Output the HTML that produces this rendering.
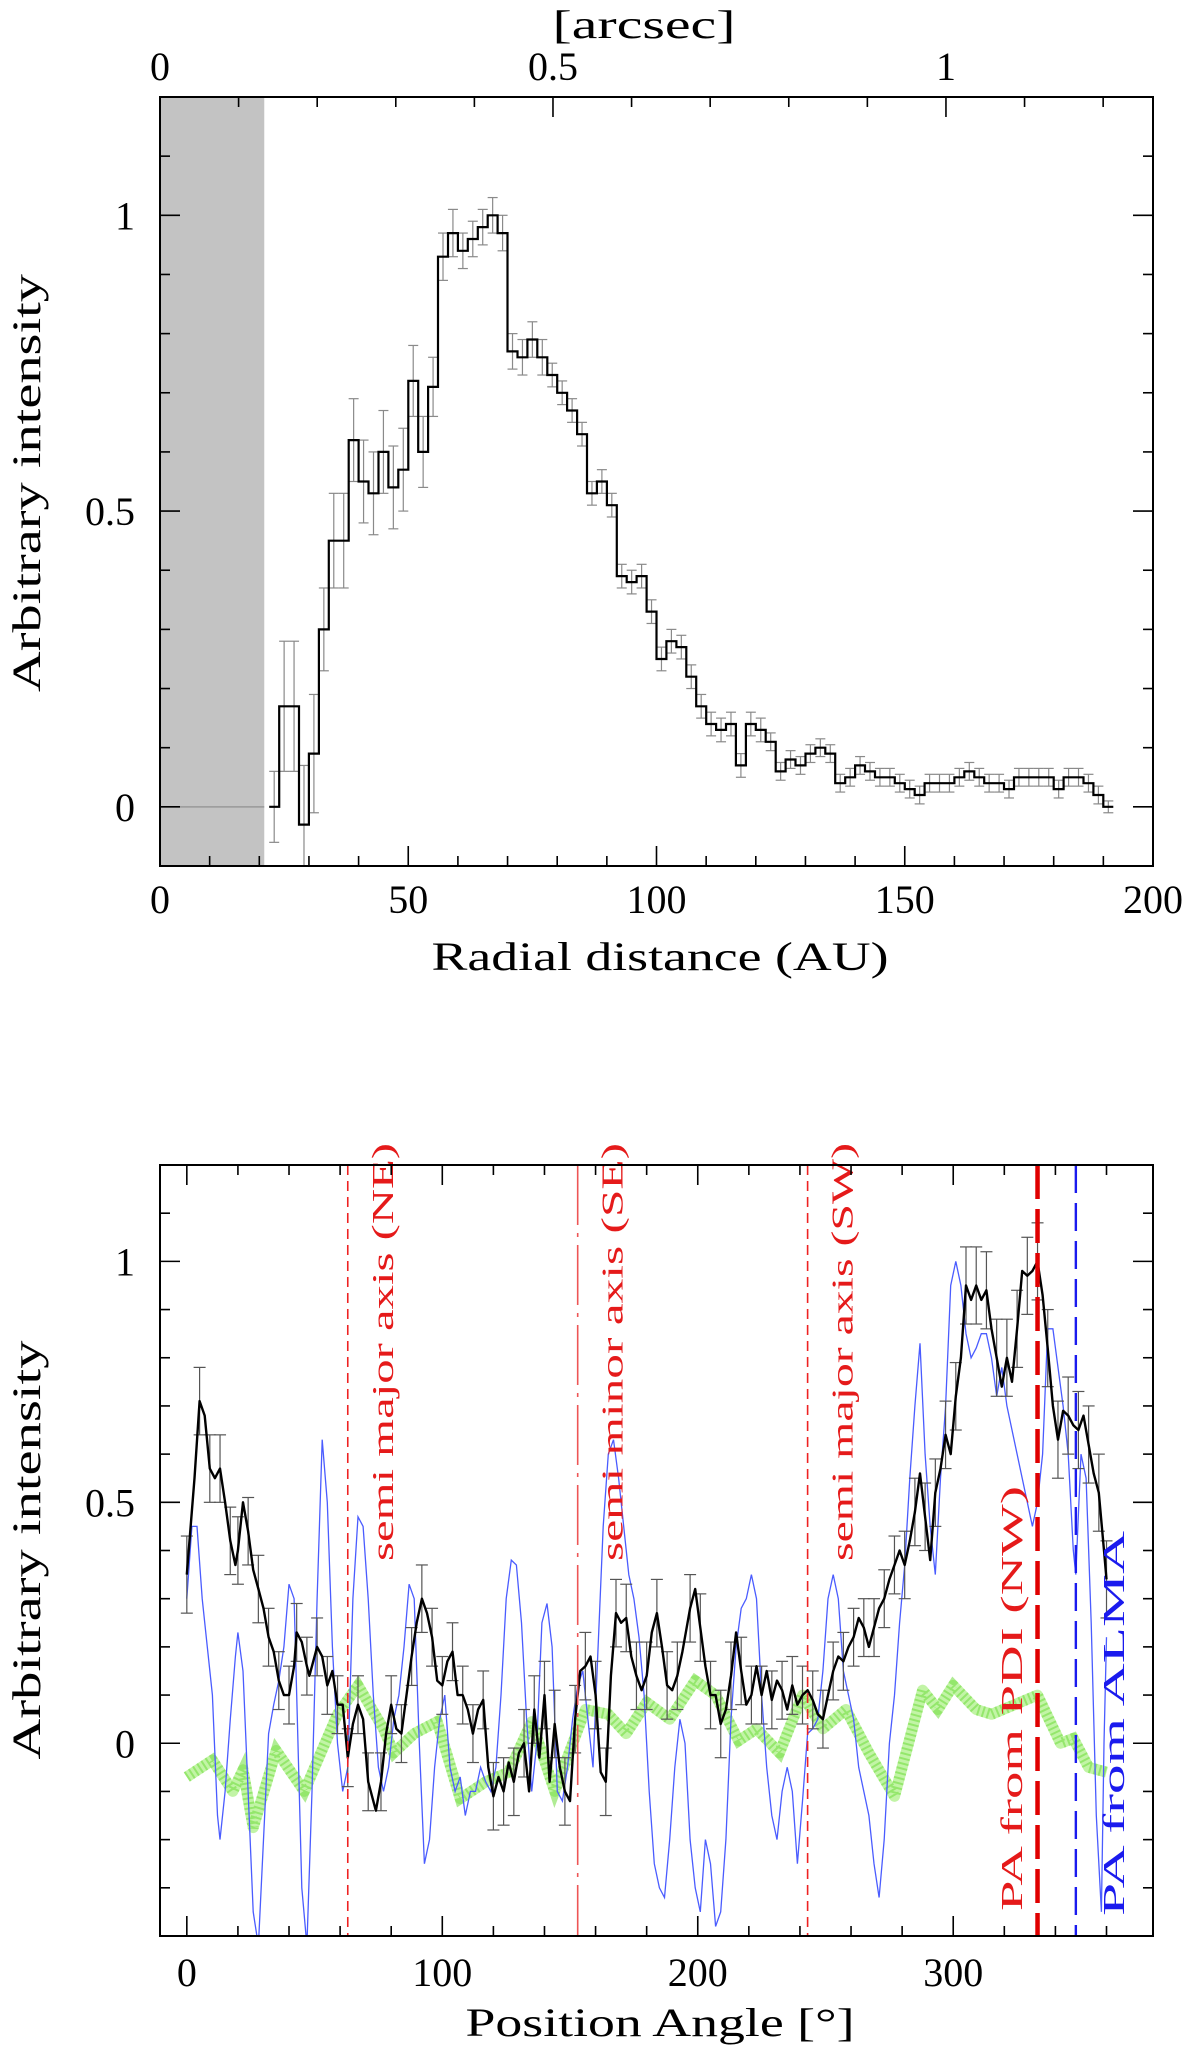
<!DOCTYPE html>
<html><head><meta charset="utf-8">
<style>
html,body{margin:0;padding:0;background:#fff;}
svg{display:block;font-family:"Liberation Serif",serif;}
</style></head>
<body>
<svg id="fig" width="1200" height="2053" viewBox="0 0 1200 2053" xmlns="http://www.w3.org/2000/svg">
<g id="top"></g>
<g id="bot"></g>
</svg>
<script>
// ---------- TOP PANEL DATA ----------
const radBinStart = 22;
const radBinWidth = 2;
const radValues = [0.0,0.17,0.17,-0.03,0.09,0.30,0.45,0.45,0.62,0.55,
0.53,0.60,0.54,0.57,0.72,0.60,0.71,0.93,0.97,0.94,
0.96,0.98,1.0,0.97,0.77,0.76,0.79,0.76,0.73,0.70,
0.67,0.63,0.53,0.55,0.51,0.39,0.38,0.39,0.33,0.25,
0.28,0.27,0.22,0.17,0.14,0.13,0.14,0.07,0.14,0.13,
0.11,0.06,0.08,0.07,0.09,0.10,0.09,0.04,0.05,0.07,
0.06,0.05,0.05,0.04,0.03,0.02,0.04,0.04,0.04,0.05,
0.06,0.05,0.04,0.04,0.03,0.05,0.05,0.05,0.05,0.03,
0.05,0.05,0.04,0.02,0.0];
const radErrors = [0.06,0.11,0.11,0.1,0.1,0.07,0.08,0.08,0.07,0.07,
0.07,0.07,0.07,0.07,0.06,0.06,0.05,0.04,0.04,0.03,
0.03,0.03,0.03,0.03,0.03,0.03,0.03,0.03,0.02,0.02,
0.02,0.02,0.02,0.02,0.02,0.02,0.02,0.02,0.02,0.02,
0.02,0.02,0.02,0.02,0.02,0.02,0.02,0.02,0.02,0.02,
0.015,0.015,0.015,0.015,0.015,0.015,0.015,0.015,0.015,0.015,
0.015,0.015,0.015,0.015,0.015,0.015,0.015,0.015,0.015,0.015,
0.015,0.015,0.015,0.015,0.015,0.015,0.015,0.015,0.015,0.015,
0.015,0.015,0.015,0.015,0.01];
const radXTicks = [0,50,100,150,200];
const radYTicks = [0,0.5,1];
const arcTicks = [0,0.5,1];
const auPerArcsec = 158.3;
const maskEdge = 21;

// ---------- BOTTOM PANEL DATA ----------
const paAngles = [0,3,5,7,9,11,13,15,17,19,20,22,24,26,28,30,32,34,36,38,40,42,43,45,47,48,51,53,55,57,59,61,63,65,67,69,71,74,76,78,80,82,84,86,88,90,92,94,96,98,100,102,104,106,108,110,112,114,116,118,120,122,124,126,128,130,132,134,136,138,140,142,144,146,148,150,152,154,156,158,160,162,164,166,168,170,172,174,176,178,180,182,184,186,188,190,192,194,197,199,201,203,205,207,209,211,213,215,217,219,221,223,225,227,229,231,233,235,237,239,241,243,245,247,249,251,253,255,257,259,261,263,265,267,269,271,273,275,277,279,281,283,285,287,289,291,293,295,297,299,301,303,305,307,309,311,313,315,317,319,321,323,325,327,329,331,333,335,337,339,341,343,345,347,349,351,353,355,357,359,360];
const paValues = [0.35,0.55,0.71,0.68,0.57,0.55,0.57,0.5,0.42,0.37,0.4,0.5,0.44,0.36,0.32,0.28,0.22,0.19,0.13,0.1,0.1,0.16,0.23,0.21,0.16,0.14,0.2,0.18,0.12,0.15,0.08,0.08,-0.03,0.04,0.08,0.05,-0.08,-0.14,-0.08,0.02,0.08,0.03,0.02,0.1,0.18,0.25,0.3,0.27,0.22,0.13,0.12,0.17,0.19,0.1,0.1,0.07,0.02,0.07,0.09,-0.05,-0.11,-0.07,-0.1,-0.04,-0.08,-0.02,0.0,-0.1,0.07,-0.03,0.1,-0.08,0.04,-0.05,-0.1,-0.12,0.05,0.15,0.16,0.18,0.1,-0.06,-0.08,0.14,0.27,0.25,0.26,0.18,0.14,0.11,0.14,0.23,0.27,0.2,0.12,0.11,0.14,0.19,0.28,0.32,0.24,0.16,0.1,0.1,0.04,0.07,0.14,0.23,0.15,0.08,0.1,0.16,0.1,0.15,0.09,0.13,0.11,0.07,0.12,0.08,0.1,0.11,0.09,0.06,0.05,0.1,0.15,0.18,0.17,0.2,0.22,0.26,0.24,0.2,0.24,0.28,0.3,0.34,0.37,0.4,0.37,0.42,0.48,0.56,0.47,0.38,0.52,0.57,0.64,0.6,0.72,0.8,0.95,0.92,0.95,0.92,0.94,0.86,0.8,0.74,0.8,0.75,0.86,0.98,0.97,0.98,1.0,0.93,0.82,0.7,0.63,0.69,0.68,0.66,0.65,0.68,0.62,0.56,0.52,0.4,0.34];
const paErrors = [0.08,0.07,0.07,0.07,0.07,0.07,0.07,0.07,0.07,0.07,0.07,0.08,0.07,0.07,0.07,0.06,0.06,0.06,0.06,0.06,0.06,0.06,0.06,0.06,0.06,0.06,0.06,0.06,0.06,0.06,0.06,0.06,0.06,0.06,0.06,0.06,0.06,0.08,0.06,0.06,0.06,0.06,0.06,0.06,0.06,0.08,0.07,0.07,0.06,0.06,0.06,0.06,0.06,0.06,0.06,0.06,0.06,0.06,0.06,0.07,0.07,0.07,0.07,0.07,0.07,0.07,0.07,0.07,0.07,0.07,0.07,0.07,0.07,0.07,0.07,0.07,0.07,0.07,0.07,0.07,0.07,0.07,0.07,0.07,0.07,0.07,0.07,0.07,0.07,0.07,0.07,0.07,0.07,0.07,0.07,0.07,0.07,0.07,0.07,0.07,0.07,0.07,0.07,0.07,0.07,0.07,0.07,0.07,0.07,0.06,0.06,0.06,0.06,0.06,0.06,0.06,0.06,0.06,0.06,0.06,0.06,0.06,0.06,0.06,0.06,0.06,0.06,0.06,0.06,0.06,0.06,0.06,0.06,0.06,0.06,0.06,0.06,0.06,0.06,0.07,0.07,0.07,0.07,0.07,0.07,0.07,0.07,0.07,0.07,0.07,0.07,0.07,0.08,0.08,0.08,0.08,0.08,0.08,0.08,0.08,0.08,0.08,0.08,0.08,0.08,0.08,0.08,0.08,0.08,0.08,0.08,0.08,0.08,0.08,0.08,0.08,0.08,0.08,0.08,0.08,0.08,0.08,0.08];
const almaAngles = [0,2,4,6,8,10,12,13,15,17,19,20,22,24,26,28,30,32,34,36,38,40,42,43,45,47,49,51,53,55,57,59,61,63,65,67,69,71,73,75,77,79,81,83,85,87,89,91,93,95,97,99,101,103,105,107,109,111,113,115,117,119,121,123,125,127,129,131,133,135,137,139,141,143,145,147,149,151,153,155,157,159,161,163,165,167,169,171,173,175,177,179,181,183,185,187,189,191,193,195,197,199,201,203,205,207,209,211,213,215,217,219,221,223,225,227,229,231,233,235,237,239,241,243,245,247,249,251,253,255,257,259,261,263,265,267,269,271,273,275,277,279,281,283,285,287,289,291,293,295,297,299,301,303,305,307,309,311,313,315,317,319,321,323,325,327,329,331,333,335,337,339,341,343,345,347,348,350,352,354,356,358,359,360];
const almaValues = [0.3,0.45,0.45,0.3,0.2,0.1,-0.15,-0.2,-0.1,0.05,0.18,0.23,0.15,-0.1,-0.35,-0.42,-0.2,0.02,0.08,0.13,0.2,0.33,0.3,0.1,-0.3,-0.42,-0.1,0.3,0.63,0.5,0.2,0.0,-0.1,-0.05,0.3,0.47,0.45,0.3,0.1,-0.05,-0.1,-0.05,0.05,0.1,0.2,0.33,0.3,0.0,-0.25,-0.2,-0.05,0.05,0.1,-0.05,-0.1,-0.07,-0.15,-0.1,-0.1,-0.05,-0.08,-0.1,-0.05,0.1,0.3,0.38,0.37,0.25,0.05,-0.1,0.0,0.25,0.29,0.2,-0.1,-0.12,-0.05,0.05,0.12,0.15,0.05,-0.05,0.2,0.45,0.6,0.63,0.55,0.45,0.35,0.3,0.22,0.1,-0.1,-0.25,-0.3,-0.32,-0.2,-0.05,0.05,0.0,-0.2,-0.3,-0.35,-0.2,-0.25,-0.38,-0.35,-0.2,0.05,0.2,0.28,0.3,0.35,0.3,0.1,-0.05,-0.15,-0.2,-0.1,-0.05,-0.1,-0.25,-0.12,0.02,0.03,0.05,0.15,0.3,0.35,0.3,0.15,0.1,0.05,-0.05,-0.1,-0.15,-0.25,-0.32,-0.2,0.0,0.1,0.25,0.37,0.55,0.7,0.83,0.6,0.45,0.35,0.55,0.7,0.95,1.0,0.95,0.85,0.8,0.82,0.85,0.85,0.8,0.72,0.78,0.7,0.65,0.6,0.55,0.5,0.45,0.5,0.6,0.86,0.86,0.78,0.7,0.6,0.4,0.35,0.6,0.55,0.25,-0.15,-0.35,0.0,0.22];
const modelAngles = [0,10,18,22,26,35,46,59,67,77,81,89,98,107,117,126,135,144,156,165,172,180,189,199,207,216,223,232,241,249,258,267,277,288,294,300,309,315,333,342,347,353,360];
const modelValues = [-0.07,-0.035,-0.1,-0.055,-0.175,-0.015,-0.1,0.06,0.12,0.03,-0.02,0.02,0.045,-0.115,-0.08,-0.06,0.045,-0.1,0.07,0.06,0.02,0.085,0.05,0.13,0.1,0.005,0.03,-0.02,0.1,0.03,0.07,-0.02,-0.11,0.11,0.07,0.12,0.07,0.06,0.1,0.0,0.01,-0.05,-0.06];
const paXTicks = [0,100,200,300];
const paYTicks = [0,0.5,1];
const axisAngles = [63,153,243];
const axisLabels = ["semi major axis (NE)","semi minor axis (SE)","semi major axis (SW)"];
const pdiAngle = 333;
const almaAngle = 348;

const NS = "http://www.w3.org/2000/svg";
function mk(parent, tag, attrs, text){
  const e = document.createElementNS(NS, tag);
  for (const k in attrs) e.setAttribute(k, attrs[k]);
  if (text !== undefined) e.textContent = text;
  parent.appendChild(e);
  return e;
}

// ============ TOP PANEL ============
(function(){
  const g = document.getElementById('top');
  const L=160,R=1153,T=97,B=866;
  const xmin=0,xmax=200,ymin=-0.1,ymax=1.2;
  const X = v => L + (v-xmin)/(xmax-xmin)*(R-L);
  const Y = v => B - (v-ymin)/(ymax-ymin)*(B-T);

  const sh = mk(g,'rect',{x:L,y:T,width:X(maskEdge)-L,height:B-T,fill:'#c3c3c3'});
  
  
  mk(g,'line',{x1:L,y1:Y(0),x2:X(maskEdge),y2:Y(0),stroke:'#999','stroke-width':1.5});

  const eg = mk(g,'g',{stroke:'#8a8a8a','stroke-width':1.2,fill:'none'});
  
  
  radValues.forEach((v,i)=>{
    const xc = X(radBinStart + (i+0.5)*radBinWidth);
    const e = radErrors[i];
    const y1=Math.min(B,Y(v-e)), y2=Math.max(T,Y(v+e));
    mk(eg,'line',{x1:xc,y1:y1,x2:xc,y2:y2});
    if (Y(v-e)<=B) mk(eg,'line',{x1:xc-5,y1:Y(v-e),x2:xc+5,y2:Y(v-e)});
    mk(eg,'line',{x1:xc-5,y1:Y(v+e),x2:xc+5,y2:Y(v+e)});
  });
  let d='';
  radValues.forEach((v,i)=>{
    const x0=X(radBinStart+i*radBinWidth), x1=X(radBinStart+(i+1)*radBinWidth);
    d += (i===0?'M':'L')+x0.toFixed(1)+','+Y(v).toFixed(1)+'L'+x1.toFixed(1)+','+Y(v).toFixed(1);
  });
  const hp = mk(g,'path',{d:d,fill:'none',stroke:'#000','stroke-width':2.2});
  
  

  const fr = mk(g,'rect',{x:L,y:T,width:R-L,height:B-T,fill:'none',stroke:'#000','stroke-width':2});
  
  
  const tk = mk(g,'g',{stroke:'#000','stroke-width':1.6});
  for(let v=0; v<=200; v+=10){
    const len = v%50===0?20:10;
    mk(tk,'line',{x1:X(v),y1:B,x2:X(v),y2:B-len});
  }
  for(let a=0; a*auPerArcsec<=200+1e-6; a=Math.round((a+0.1)*10)/10){
    const len = Math.abs(a*2-Math.round(a*2))<1e-6?20:10;
    mk(tk,'line',{x1:X(a*auPerArcsec),y1:T,x2:X(a*auPerArcsec),y2:T+len});
  }
  for(let k=-1;k<=12;k++){
    const v=k/10; const len = (k%5===0)?20:10;
    mk(tk,'line',{x1:L,y1:Y(v),x2:L+len,y2:Y(v)});
    mk(tk,'line',{x1:R,y1:Y(v),x2:R-len,y2:Y(v)});
  }
  radXTicks.forEach(v=>{
    const t=mk(g,'text',{x:X(v),y:913,'font-size':40,'text-anchor':'middle'},String(v));
    
    
  });
  arcTicks.forEach(a=>{
    const t=mk(g,'text',{x:X(a*auPerArcsec),y:80,'font-size':40,'text-anchor':'middle'},String(a));
    
    
  });
  radYTicks.forEach(v=>{
    const t=mk(g,'text',{x:135,y:Y(v)+14,'font-size':40,'text-anchor':'end'},String(v));
    
    
  });
  const xt=mk(g,'text',{x:660,y:970,'font-size':40,'text-anchor':'middle',textLength:457,lengthAdjust:'spacingAndGlyphs'},'Radial distance (AU)');
  
  
  const at=mk(g,'text',{x:644,y:38,'font-size':40,'text-anchor':'middle',textLength:183,lengthAdjust:'spacingAndGlyphs'},'[arcsec]');
  
  
  const yt=mk(g,'text',{x:0,y:0,'font-size':40,'text-anchor':'middle',textLength:418,lengthAdjust:'spacingAndGlyphs',transform:'translate(40,483) rotate(-90)'},'Arbitrary intensity');
  
  
})();

// ============ BOTTOM PANEL ============
(function(){
  const g = document.getElementById('bot');
  const L=160,R=1153,T=1165,B=1936;
  const xmin=-10.5,xmax=378.2,ymin=-0.4,ymax=1.2;
  const X = v => L + (v-xmin)/(xmax-xmin)*(R-L);
  const Y = v => B - (v-ymin)/(ymax-ymin)*(B-T);
  const clip = mk(g,'clipPath',{id:'botclip'});
  mk(clip,'rect',{x:L,y:T,width:R-L,height:B-T});
  const inner = mk(g,'g',{'clip-path':'url(#botclip)'});

  let dm='';
  modelAngles.forEach((a,i)=>{ dm += (i?'L':'M')+X(a).toFixed(1)+','+Y(modelValues[i]).toFixed(1); });
  const gm = mk(inner,'path',{d:dm,fill:'none',stroke:'#a8f080','stroke-width':11,'stroke-linejoin':'round',opacity:0.7});
  
  
  const gm2 = mk(inner,'path',{d:dm,fill:'none',stroke:'#6fdc3c','stroke-width':11,'stroke-dasharray':'2 3',opacity:0.55});
  
  

  let db='';
  almaAngles.forEach((a,i)=>{ db += (i?'L':'M')+X(a).toFixed(1)+','+Y(almaValues[i]).toFixed(1); });
  const bl = mk(inner,'path',{d:db,fill:'none',stroke:'#4a5cff','stroke-width':1.3});
  
  

  const eg = mk(inner,'g',{stroke:'#555','stroke-width':1.2});
  
  
  paAngles.forEach((a,i)=>{
    if(i%2) return;
    const v=paValues[i], e=paErrors[i], xc=X(a);
    mk(eg,'line',{x1:xc,y1:Y(v-e),x2:xc,y2:Y(v+e)});
    mk(eg,'line',{x1:xc-6,y1:Y(v-e),x2:xc+6,y2:Y(v-e)});
    mk(eg,'line',{x1:xc-6,y1:Y(v+e),x2:xc+6,y2:Y(v+e)});
  });
  let dk='';
  paAngles.forEach((a,i)=>{ dk += (i?'L':'M')+X(a).toFixed(1)+','+Y(paValues[i]).toFixed(1); });
  const bk = mk(inner,'path',{d:dk,fill:'none',stroke:'#000','stroke-width':2.4,'stroke-linejoin':'round'});
  
  

  const dashes=['10 6','60 8 4 8','10 6'];
  axisAngles.forEach((a,i)=>{
    const ln = mk(g,'line',{x1:X(a),y1:T,x2:X(a),y2:B,stroke:i===1?'#ee5555':'#ee2222','stroke-width':1.6,'stroke-dasharray':dashes[i]});
    
    
    const tx = X(a)+45;
    const t = mk(g,'text',{x:0,y:0,'font-size':31,fill:'#e51a1a','text-anchor':'start',textLength:418,lengthAdjust:'spacingAndGlyphs',transform:'translate('+tx+',1561) rotate(-90)'},axisLabels[i]);
    
    
  });
  const pl = mk(g,'line',{x1:X(pdiAngle),y1:T,x2:X(pdiAngle),y2:B,stroke:'#e00000','stroke-width':4.5,'stroke-dasharray':'34 10'});
  
  
  const al = mk(g,'line',{x1:X(almaAngle),y1:T,x2:X(almaAngle),y2:B,stroke:'#1a1aee','stroke-width':2.4,'stroke-dasharray':'28 10'});
  
  
  const pt = mk(g,'text',{x:0,y:0,'font-size':31,fill:'#e51a1a',textLength:425,lengthAdjust:'spacingAndGlyphs',transform:'translate(1022,1911) rotate(-90)'},'PA from PDI (NW)');
  
  
  const atx = mk(g,'text',{x:0,y:0,'font-size':31,fill:'#1a1aee',textLength:385,lengthAdjust:'spacingAndGlyphs',transform:'translate(1124,1916) rotate(-90)'},'PA from ALMA');
  
  

  const fr = mk(g,'rect',{x:L,y:T,width:R-L,height:B-T,fill:'none',stroke:'#000','stroke-width':2});
  
  
  const tk = mk(g,'g',{stroke:'#000','stroke-width':1.6});
  for(let v=0; v<=360; v+=20){
    const len = v%100===0?20:10;
    mk(tk,'line',{x1:X(v),y1:B,x2:X(v),y2:B-len});
    mk(tk,'line',{x1:X(v),y1:T,x2:X(v),y2:T+len});
  }
  for(let k=-4;k<=12;k++){
    const v=k/10; const len=(k%5===0)?20:10;
    mk(tk,'line',{x1:L,y1:Y(v),x2:L+len,y2:Y(v)});
    mk(tk,'line',{x1:R,y1:Y(v),x2:R-len,y2:Y(v)});
  }
  paXTicks.forEach(v=>{
    const t=mk(g,'text',{x:X(v),y:1986,'font-size':40,'text-anchor':'middle'},String(v));
    
    
  });
  paYTicks.forEach(v=>{
    const t=mk(g,'text',{x:135,y:Y(v)+14,'font-size':40,'text-anchor':'end'},String(v));
    
    
  });
  const xt=mk(g,'text',{x:660,y:2036,'font-size':40,'text-anchor':'middle',textLength:389,lengthAdjust:'spacingAndGlyphs'},'Position Angle [°]');
  
  
  const yt=mk(g,'text',{x:0,y:0,'font-size':40,'text-anchor':'middle',textLength:419,lengthAdjust:'spacingAndGlyphs',transform:'translate(40,1550) rotate(-90)'},'Arbitrary intensity');
  
  
})();
</script>
</body></html>
